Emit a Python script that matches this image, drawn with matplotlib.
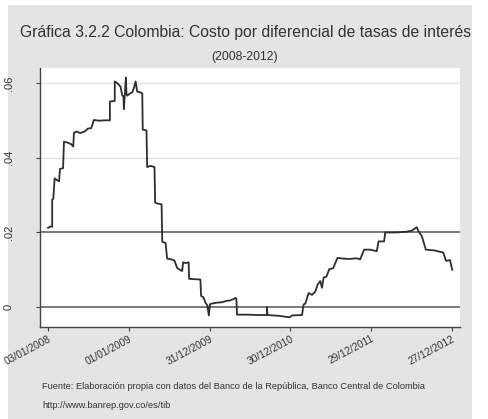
import matplotlib
matplotlib.use("Agg")
import matplotlib.pyplot as plt
from matplotlib.patches import Rectangle
from datetime import date

plt.rcParams['font.family'] = ['Liberation Sans', 'DejaVu Sans']

start_date = "03/01/2008"
# days since 03/01/2008
days = [0, 10, 19, 19, 24, 30, 40, 50, 54, 68, 72, 90, 105, 114, 117, 130, 145, 165, 180, 195,
        207, 230, 255, 279, 279, 301, 301, 315, 327, 335, 340, 342, 347, 351, 354, 357, 370, 380,
        388, 395, 402, 415, 425, 427, 444, 447, 462, 480, 483, 490, 512, 515, 530, 537, 555, 570,
        582, 600, 605, 609, 620, 634, 636, 660, 687, 690, 700, 710, 718, 725, 730, 740, 760, 780,
        807, 820, 837, 845, 849, 852, 900, 950, 987, 987, 989, 1040, 1089, 1100, 1145, 1152, 1160,
        1175, 1190, 1205, 1215, 1227, 1235, 1242, 1255, 1268, 1285, 1305, 1330, 1360, 1390, 1407,
        1425, 1450, 1482, 1490, 1515, 1520, 1570, 1617, 1640, 1662, 1670, 1685, 1695, 1703, 1740,
        1782, 1794, 1812, 1822]
values = [.0212, .0216, .0215, .0288, .0290, .0345, .0340, .0337, .0370, .0372, .0443, .0440,
          .0436, .0430, .0467, .0470, .0466, .0470, .0478, .0479, .0501, .0499, .0500, .0500,
          .0550, .0552, .0604, .0598, .0590, .0566, .0565, .0530, .0575, .0614, .0570, .0566,
          .0572, .0575, .0588, .0604, .0577, .0575, .0572, .0475, .0473, .0375, .0378, .0375,
          .0280, .0278, .0275, .0175, .0172, .0130, .0128, .0125, .0105, .0098, .0097, .0120,
          .0118, .0120, .0076, .0075, .0074, .0030, .0027, .0012, .0005, -.0022, .0008, .0010,
          .0012, .0013, .0017, .0018, .0022, .0025, .0022, -.0020, -.0020, -.0021, -.0021, .0000,
          -.0021, -.0023, -.0027, -.0022, -.0021, .0007, .0010, .0038, .0033, .0042, .0060, .0070,
          .0052, .0079, .0082, .0102, .0104, .0132, .0130, .0129, .0131, .0128, .0154, .0154,
          .0150, .0176, .0176, .0200, .0200, .0202, .0205, .0214, .0203, .0190, .0170, .0154,
          .0152, .0146, .0124, .0126, .0100]

x_tick_labels = ["03/01/2008", "01/01/2009", "31/12/2009", "30/12/2010", "29/12/2011", "27/12/2012"]
y_ticks = [0, 0.02, 0.04, 0.06]
y_tick_labels = ["0", ".02", ".04", ".06"]
ref_lines = [0, 0.02]

title = "Gráfica 3.2.2 Colombia: Costo por diferencial de tasas de interés"
subtitle = "(2008-2012)"
note1 = "Fuente: Elaboración propia con datos del Banco de la República, Banco Central de Colombia"
note2 = "http://www.banrep.gov.co/es/tib"


def to_date(s):
    d, m, y = s.split("/")
    return date(int(y), int(m), int(d))


d0 = to_date(start_date)
x_ticks = [(to_date(s) - d0).days for s in x_tick_labels]

W, H = 488, 419
fig = plt.figure(figsize=(W / 100, H / 100), dpi=100, facecolor="white")
bg = Rectangle((8 / W, 0), (472 - 8) / W, 1 - 5 / H, transform=fig.transFigure,
               facecolor="#e4e4e4", edgecolor="none", zorder=-10)
fig.patches.append(bg)

ax = fig.add_axes([40 / W, 1 - 327 / H, (460 - 40) / W, (327 - 68) / H])
ax.set_zorder(5)
ax.set_facecolor("white")

for yv in [0.04, 0.06]:
    ax.axhline(yv, color="#e2e2e2", lw=1.0, zorder=1)
for yv in ref_lines:
    ax.axhline(yv, color="#555555", lw=1.1, zorder=2)

ax.plot(days, values, color="#2e2e2e", lw=1.3, zorder=3)

ax.set_xlim(-36, 1857)
ax.set_ylim(-0.0053, 0.064)

for s in ["top", "right"]:
    ax.spines[s].set_visible(False)
for s in ["left", "bottom"]:
    ax.spines[s].set_color("#444444")
    ax.spines[s].set_linewidth(1.0)

ax.set_xticks(x_ticks)
ax.set_xticklabels(x_tick_labels, rotation=28, ha="right", rotation_mode="anchor",
                   fontsize=7.3, color="#333333")
ax.set_yticks(y_ticks)
ax.set_yticklabels(y_tick_labels, rotation=90, va="center", fontsize=8, color="#333333")
ax.tick_params(axis="x", length=3, color="#444444", pad=2)
ax.tick_params(axis="y", length=3, color="#444444", pad=16)

fig.text(245.5 / W, 1 - 33 / H, title, ha="center", va="center", fontsize=11.3, color="#333333")
fig.text(245 / W, 1 - 57 / H, subtitle, ha="center", va="center", fontsize=8.8, color="#333333")
fig.text(42 / W, 1 - 386 / H, note1, ha="left", va="center", fontsize=6.7, color="#333333")
fig.text(42 / W, 1 - 405 / H, note2, ha="left", va="center", fontsize=6.7, color="#333333")

fig.savefig("out.png", dpi=100, facecolor=fig.get_facecolor())
